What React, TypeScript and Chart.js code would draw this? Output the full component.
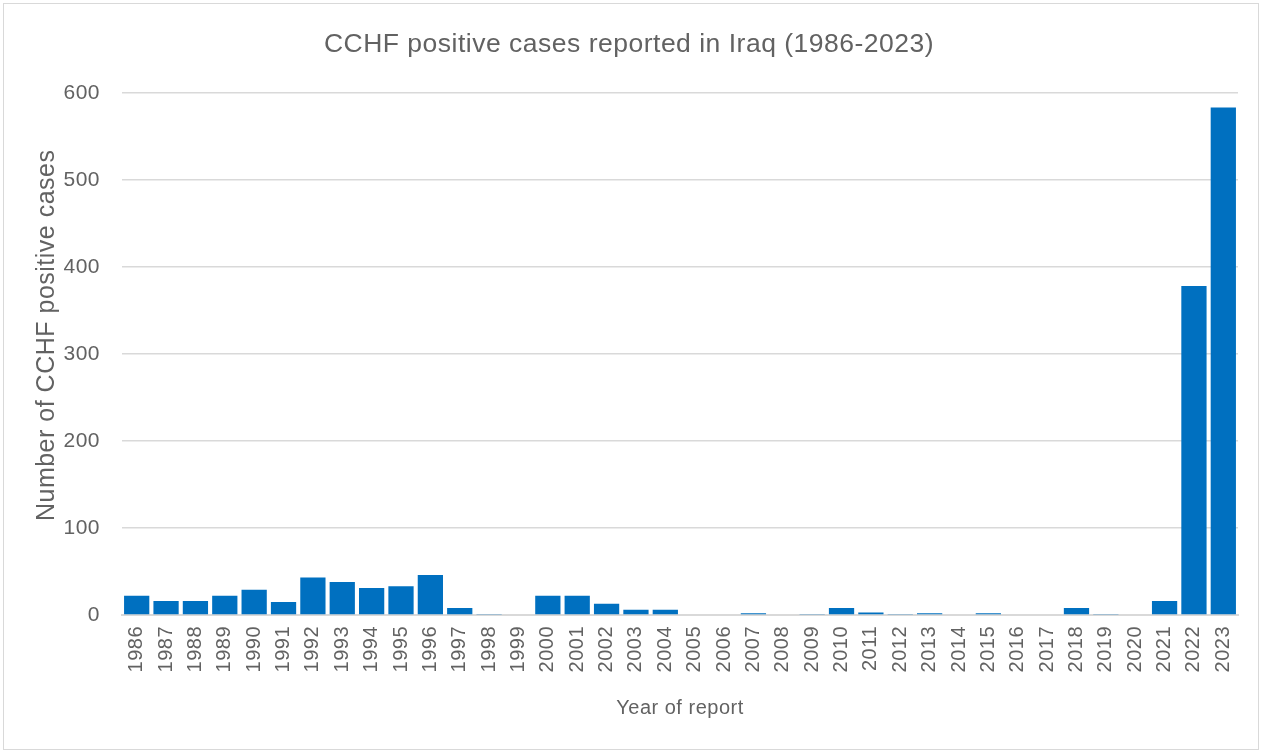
import React, { useEffect, useRef } from "react";
import { Chart, registerables } from "chart.js";

Chart.register(...registerables);

const years: string[] = [
  "1986", "1987", "1988", "1989", "1990", "1991", "1992", "1993", "1994", "1995",
  "1996", "1997", "1998", "1999", "2000", "2001", "2002", "2003", "2004", "2005",
  "2006", "2007", "2008", "2009", "2010", "2011", "2012", "2013", "2014", "2015",
  "2016", "2017", "2018", "2019", "2020", "2021", "2022", "2023",
];

const cases: number[] = [
  22, 16, 16, 22, 29, 15, 43, 38, 31, 33,
  46, 8, 0.6, 0, 22, 22, 13, 6, 6, 0,
  0, 2, 0, 0.6, 8, 3, 0.6, 2, 0, 2,
  0, 0, 8, 0.6, 0, 16, 378, 583,
];

const yTicks: number[] = [0, 100, 200, 300, 400, 500, 600];

const chartTitle = "CCHF positive cases reported in Iraq (1986-2023)";
const xTitle = "Year of report";
const yTitle = "Number of CCHF positive cases";

const FONT = "'Liberation Sans', Arial, sans-serif";
const TEXT = "#626262";

const spacingPlugin = {
  id: "letterSpacing",
  beforeUpdate(chart: any) {
    try {
      chart.ctx.letterSpacing = "0.5px";
    } catch (e) {}
  },
  beforeDraw(chart: any) {
    try {
      chart.ctx.letterSpacing = "0.5px";
    } catch (e) {}
  },
};

export default function App() {
  const ref = useRef<HTMLCanvasElement | null>(null);

  useEffect(() => {
    document.body.style.margin = "0";
    if (!ref.current) return;
    const chart = new Chart(ref.current, {
      type: "bar",
      plugins: [spacingPlugin],
      data: {
        labels: years,
        datasets: [
          {
            label: "Cases",
            data: cases,
            backgroundColor: "#0070c0",
            borderWidth: 0,
            barPercentage: 0.86,
            categoryPercentage: 1,
          },
        ],
      },
      options: {
        animation: false,
        responsive: false,
        maintainAspectRatio: false,
        layout: { padding: { left: 20, right: 26, top: 0, bottom: 20 } },
        plugins: {
          legend: { display: false },
          tooltip: { enabled: false },
          title: {
            display: true,
            text: chartTitle,
            color: TEXT,
            font: { family: FONT, size: 26.5, weight: "normal" },
            padding: { top: 29, bottom: 32 },
          },
        },
        scales: {
          x: {
            grid: { display: false, drawTicks: false },
            border: { display: true, color: "#d9d9d9", width: 2 },
            ticks: {
              color: TEXT,
              font: { family: FONT, size: 20 },
              minRotation: 90,
              maxRotation: 90,
              autoSkip: false,
              padding: 11,
            },
            title: {
              display: true,
              text: xTitle,
              color: TEXT,
              font: { family: FONT, size: 20 },
              padding: { top: 0, bottom: 15 },
            },
            afterFit: (s: any) => {
              s.height = 755 - 20 - 615;
            },
          },
          y: {
            min: 0,
            max: 600,
            afterBuildTicks: (s: any) => {
              s.ticks = yTicks.map((v) => ({ value: v }));
            },
            grid: { color: "#d9d9d9", lineWidth: 1.5, drawTicks: false },
            border: { display: false },
            ticks: {
              color: TEXT,
              font: { family: FONT, size: 21 },
              padding: 22,
            },
            title: {
              display: true,
              text: "     " + yTitle,
              color: TEXT,
              font: { family: FONT, size: 25 },
              padding: { top: 12, bottom: 0 },
            },
            afterFit: (s: any) => {
              s.width = 122 - 20;
            },
          },
        },
      },
    });
    return () => chart.destroy();
  }, []);

  return (
    <div style={{ position: "relative", width: 1264, height: 755, background: "#fff" }}>
      <div
        style={{
          position: "absolute",
          left: 3,
          top: 3,
          width: 1256,
          height: 747,
          border: "1px solid #d9d9d9",
          boxSizing: "border-box",
        }}
      />
      <canvas ref={ref} width={1264} height={755} style={{ position: "absolute", left: 0, top: 0 }} />
    </div>
  );
}
